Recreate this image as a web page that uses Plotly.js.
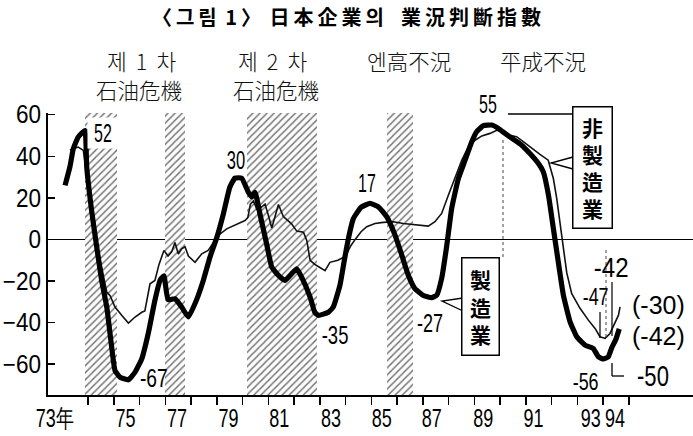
<!DOCTYPE html>
<html><head><meta charset="utf-8">
<script src="https://cdn.plot.ly/plotly-3.0.1.min.js"></script>
<style>html,body{margin:0;padding:0;background:#fff}#chart{width:693px;height:436px}</style>
</head><body><div id="chart"></div>
<script>
// ---- data (decimal years, business-condition DI) ----
const mfgX = [1973.1,1973.29,1973.42,1973.61,1973.87,1973.94,1974.13,1974.33,1974.52,1974.72,1974.91,1975.04,1975.23,1975.56,1975.82,1976.08,1976.33,1976.59,1976.79,1976.94,1977.1,1977.37,1977.63,1977.89,1978.2,1978.47,1978.73,1979.0,1979.25,1979.5,1979.7,1979.96,1980.22,1980.35,1980.48,1980.67,1980.93,1981.13,1981.39,1981.64,1981.9,1982.1,1982.29,1982.62,1982.8,1982.94,1983.33,1983.52,1983.78,1983.95,1984.1,1984.3,1984.6,1984.95,1985.27,1985.6,1985.92,1986.18,1986.43,1986.69,1987.0,1987.34,1987.54,1987.73,1987.93,1988.12,1988.38,1988.64,1988.9,1989.09,1989.35,1989.68,1989.93,1990.19,1990.51,1990.84,1991.16,1991.49,1991.68,1991.88,1992.07,1992.26,1992.46,1992.72,1992.98,1993.3,1993.62,1993.82,1994.01,1994.2,1994.34,1994.5,1994.63];
const mfgY = [26,35,43.6,49.2,52.4,35,14,-3.7,-19.7,-32.5,-51.8,-63,-66.2,-67.5,-63.8,-57.4,-45.3,-29.3,-19.7,-17.5,-29,-28.5,-32.5,-37.3,-29.3,-19.7,-8.5,1.1,12.3,25.1,29.5,29.5,22.7,20.5,22.7,12.3,-2.1,-13.3,-17.3,-19.7,-16.5,-14.1,-18.1,-27.7,-35,-36.5,-35,-32.5,-22,-10,0,10,15.5,17.3,15.7,10.9,2.1,-7.5,-17.1,-23.6,-26.8,-28,-26.8,-18.8,-2.8,14.9,29.3,38.1,47,51.8,54.7,55,53.4,51,48.2,45.3,41.3,36.5,32.5,21.3,5.3,-10.7,-26.8,-39.6,-46.8,-50.8,-52.4,-56.4,-57.5,-56.5,-52,-48,-43];
const nonX = [1973.29,1973.61,1973.81,1974.0,1974.26,1974.52,1974.72,1974.85,1975.04,1975.3,1975.56,1975.82,1976.08,1976.2,1976.4,1976.59,1976.75,1976.94,1977.1,1977.24,1977.37,1977.5,1977.63,1977.76,1977.89,1978.15,1978.41,1978.66,1978.86,1979.05,1979.38,1979.77,1980.09,1980.2,1980.3,1980.42,1980.55,1980.67,1980.87,1981.0,1981.13,1981.39,1981.58,1981.9,1982.1,1982.36,1982.49,1982.62,1982.8,1983.0,1983.2,1983.39,1983.7,1984.0,1984.2,1984.4,1984.6,1984.82,1985.14,1985.46,1985.85,1986.24,1986.63,1987.0,1987.21,1987.47,1987.73,1987.99,1988.25,1988.51,1988.77,1989.03,1989.29,1989.61,1989.87,1990.12,1990.38,1990.64,1990.9,1991.23,1991.55,1991.87,1992.07,1992.2,1992.33,1992.46,1992.59,1992.78,1993.1,1993.43,1993.69,1993.88,1994.08,1994.27,1994.46,1994.6,1994.66];
const nonY = [43,44.4,42.8,27,3,-13.3,-25.3,-27,-32.5,-36.5,-40.2,-37.3,-35,-34.4,-21.3,-19.7,-12,-5.3,-8,-6,-1.5,-7,-4.5,-3.5,-8,-11,-6.9,-5.3,-1.3,1.9,5.1,7.5,9.1,10.5,17,18.5,14.5,15,17,11.5,5.5,16.8,11,7.5,4,3.5,-0.5,-10,-12,-13.5,-15,-11,-10,-8,-3,0.5,3.7,6.1,7.7,8.2,8.5,7.7,7.2,6.4,6.4,8.5,12.5,21.3,30.1,38.1,44.6,47.7,49.8,51,52.5,51.8,50.1,49.4,47,43.8,40.9,38.1,29.3,19.7,6.9,-5.9,-16,-26,-33,-38.8,-42.8,-46.8,-47.6,-45.2,-40.4,-36.4,-32.4];
// recession periods (hatched)
const bandStart = [1973.87,1976.98,1980.17,1985.6];
const bandEnd   = [1975.12,1977.76,1982.89,1986.6];
// x tick labels
const xTickVals = [1972.7,1975.45,1977.45,1979.45,1981.42,1983.43,1985.4,1987.35,1989.35,1991.3,1993.52,1994.46];
const xTickText = ['73年','75','77','79','81','83','85','87','89','91','93','94'];
const yearTicks = [1974,1975,1976,1977,1978,1979,1980,1981,1982,1983,1984,1985,1986,1987,1988,1989,1990,1991,1992,1993,1994,1995];
const yTickVals = [60,40,20,0,-20,-40,-60];

// ---- layout helpers (pixel -> paper) ----
const L=48, R=693, T=113, B=395;
const px = v => (v-L)/(R-L);
const py = v => (B-v)/(B-T);
const yMin=-74.8, yMax=60.8;
const NUM = 'Liberation Sans Narrow, Arial Narrow, Liberation Sans, sans-serif';
const CJK = 'Noto Sans CJK KR, Noto Sans CJK JP, sans-serif';
const TS = '\u2009';

const bands = {
  type:'bar', x: bandStart.map((s,i)=>(s+bandEnd[i])/2), width: bandStart.map((s,i)=>bandEnd[i]-s),
  y: bandStart.map(()=>yMax-yMin), base: yMin,
  marker:{color:'white', line:{width:0}, pattern:{shape:'/', fgcolor:'#6a6a6a', bgcolor:'#fbfbfb', size:5, solidity:0.27}},
  hoverinfo:'skip', showlegend:false
};
const thin = {type:'scatter', mode:'lines', x:nonX, y:nonY, line:{color:'#111', width:1.6}, hoverinfo:'skip', showlegend:false};
const thick = {type:'scatter', mode:'lines', x:mfgX, y:mfgY, line:{color:'#000', width:5.2, shape:'spline', smoothing:0.4}, hoverinfo:'skip', showlegend:false};

const squeezeK = [];
function lab(text, x, y, size, k, opts){
  squeezeK.push(k);
  return Object.assign({xref:'paper', yref:'paper', x:px(x), y:py(y), xanchor:'center', yanchor:'middle',
    text:text, showarrow:false, font:{family:NUM, size:size, color:'#000'}}, opts||{});
}
function hdr(text, x, y){
  squeezeK.push(1);
  return {xref:'paper', yref:'paper', x:px(x), y:py(y), xanchor:'center', yanchor:'middle', text:text,
    showarrow:false, font:{family:CJK, size:21.5, color:'#111', weight:300}};
}
function box(text, x, y, w, h){
  squeezeK.push(1);
  return {xref:'paper', yref:'paper', x:px(x), y:py(y), xanchor:'center', yanchor:'middle', text:text,
   showarrow:false, font:{family:CJK, size:21, color:'#000', weight:700}, bordercolor:'#000', borderwidth:1.5,
   bgcolor:'white', width:w, height:h, borderpad:1};
}
const annotations = [
  hdr('제\u2009 1\u2009 차', 141, 61), hdr('石油危機', 139, 89),
  hdr('제\u2009 2\u2009 차', 272, 61), hdr('石油危機', 276, 89),
  hdr('엔高不況', 409, 61), hdr('平成不況', 543, 61),
  lab('52', 103, 133, 25, 0.64, {bgcolor:'white'}),
  lab('-67', 154, 378, 26, 0.74),
  lab('30', 236, 160, 25, 0.66),
  lab('-35', 335, 335, 25, 0.74),
  lab('17', 367, 183, 25, 0.64),
  lab('-27', 430, 323, 25, 0.72),
  lab('55', 488, 104, 25, 0.64),
  lab('-42', 611, 267, 28, 0.86),
  lab('-47', 595, 297, 23, 0.78),
  lab('(-30)', 658, 305, 25, 1),
  lab('(-42)', 658, 336, 25, 1),
  lab('-56', 585, 382, 23, 0.78),
  lab('-50', 653, 376, 29, 0.76),
  box('非<br>製<br>造<br>業', 592, 167, 36, 118),
  box('製<br>造<br>業', 481, 306, 34, 94)
];
function seg(x0,y0,x1,y1,opts){
  return Object.assign({type:'line', xref:'paper', yref:'paper', x0:px(x0), y0:py(y0), x1:px(x1), y1:py(y1),
    line:{color:'#000', width:1.3}, layer:'above'}, opts||{});
}
const shapes = [
  seg(508,114,572,114),
  {type:'path', xref:'paper', yref:'paper', layer:'above', line:{color:'#000', width:1.3}, fillcolor:'white',
   path:`M ${px(573)} ${py(157)} L ${px(551)} ${py(163)} L ${px(573)} ${py(169)}`},
  {type:'path', xref:'paper', yref:'paper', layer:'above', line:{color:'#000', width:1.3}, fillcolor:'white',
   path:`M ${px(463)} ${py(298)} L ${px(442)} ${py(301)} L ${px(463)} ${py(311)}`},
  seg(503,140,503,258,{line:{color:'#444', width:1, dash:'dot'}}),
  seg(606,250,606,338,{line:{color:'#444', width:1, dash:'dot'}}),
  seg(612,282,612,336,{line:{color:'#000', width:1.2}}),
  seg(600,312,600,338,{line:{color:'#000', width:1.2}}),
  seg(612,363,612,376), seg(612,376,624,376)
];

const layout = {
  width:693, height:436, margin:{l:L, r:693-R, t:T, b:436-B, pad:0},
  paper_bgcolor:'white', plot_bgcolor:'white', barmode:'overlay', bargap:0,
  title:{text:['〈그림','1〉','日本企業의',' 業況判斷指數'].map(s=>s.split('').join(TS)).join(TS+' '), x:0.5, xref:'container', y:1-18/436, yref:'container',
         xanchor:'center', yanchor:'middle', font:{family:CJK, size:20, color:'#000', weight:700}},
  xaxis:{range:[1972.437,1997.495], showgrid:false, zeroline:false, showline:true, linecolor:'#000', linewidth:2,
         tickmode:'array', tickvals:xTickVals, ticktext:xTickText, tickangle:0, ticks:'outside', ticklen:0, tickcolor:'rgba(0,0,0,0)',
         tickfont:{family:NUM, size:25, color:'#000'},
         minor:{tickmode:'array', tickvals:yearTicks, ticks:'outside', ticklen:8, tickwidth:1.5, tickcolor:'#000', showgrid:false}},
  yaxis:{range:[yMin,yMax], showgrid:false, zeroline:true, zerolinecolor:'#000', zerolinewidth:1.5,
         showline:true, linecolor:'#000', linewidth:2, tickmode:'array', tickvals:yTickVals,
         ticks:'inside', ticklen:7, tickwidth:1.5, tickcolor:'#000', tickfont:{family:NUM, size:25, color:'#000'}},
  annotations:annotations, shapes:shapes, showlegend:false
};

// condensed look for the numeric labels (narrow typeface not installed)
function squeeze(el, k, anchor){
  if (!el || k === 1) return;
  const bb = el.getBBox();
  const cx = anchor === 'right' ? bb.x + bb.width : bb.x + bb.width/2;
  const prev = el.getAttribute('transform') || '';
  el.setAttribute('transform', `${prev} translate(${cx},0) scale(${k},1) translate(${-cx},0)`);
}
Plotly.newPlot('chart', [bands, thin, thick], layout, {staticPlot:true, displayModeBar:false}).then(gd => {
  gd.querySelectorAll('.xtick text').forEach(t => squeeze(t, 0.72, 'center'));
  gd.querySelectorAll('.ytick text').forEach(t => squeeze(t, 0.9, 'right'));
  gd.querySelectorAll('g.annotation').forEach(g => {
    const i = +g.getAttribute('data-index');
    squeeze(g.querySelector('text.annotation-text'), squeezeK[i], 'center');
  });
});
</script></body></html>
